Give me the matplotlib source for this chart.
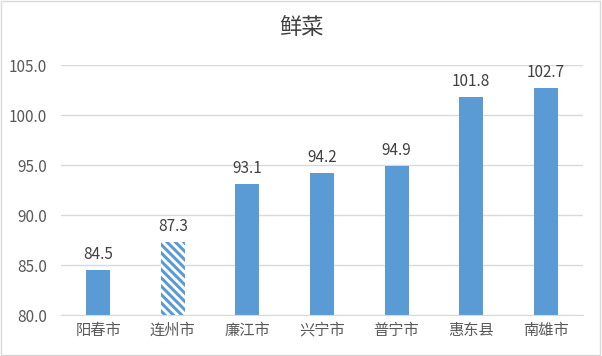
import matplotlib.pyplot as plt
import numpy as np

plt.rcParams['font.family'] = ['Noto Sans CJK SC', 'DejaVu Sans']
plt.rcParams['hatch.linewidth'] = 2.2

cities = ['阳春市', '连州市', '廉江市', '兴宁市', '普宁市', '惠东县', '南雄市']
values = [84.5, 87.3, 93.1, 94.2, 94.9, 101.8, 102.7]
hatched = [False, True, False, False, False, False, False]

bar_color = '#5B9BD5'
text_color = '#404040'

fig = plt.figure(figsize=(6.02, 3.56), dpi=100)
ax = fig.add_axes([61 / 602, 1 - 315 / 356, (583 - 61) / 602, (315 - 65) / 356])

x = np.arange(len(cities))
for i, (v, h) in enumerate(zip(values, hatched)):
    if h:
        ax.bar(x[i], v - 80, bottom=80, width=0.32, color='white',
               edgecolor=bar_color, hatch='\\\\\\\\', linewidth=0, zorder=2)
    else:
        ax.bar(x[i], v - 80, bottom=80, width=0.32, color=bar_color, zorder=2)
    ax.text(x[i], v + 0.7, f'{v:.1f}', ha='center', va='bottom',
            fontsize=11, color=text_color)

ax.set_ylim(80, 105)
ax.set_xlim(-0.5, len(cities) - 0.5)
ax.set_yticks(np.arange(80, 105.1, 5))
ax.set_yticklabels([f'{t:.1f}' for t in np.arange(80, 105.1, 5)])
ax.set_xticks(x)
ax.set_xticklabels(cities)
ax.tick_params(axis='both', length=0, labelsize=11, colors='#595959')
ax.tick_params(axis='y', pad=10)
ax.tick_params(axis='x', pad=5)
ax.grid(axis='y', color='#D9D9D9', linewidth=1, zorder=0)
for s in ['top', 'right', 'left']:
    ax.spines[s].set_visible(False)
ax.spines['bottom'].set_color('#D9D9D9')

fig.text(0.5, 1 - 27 / 356, '鲜菜', ha='center', va='center', fontsize=16, color=text_color)

fig.patches.append(plt.Rectangle((0.002, 0.003), 0.995, 0.993, transform=fig.transFigure,
                                 fill=False, edgecolor='#D9D9D9', linewidth=1))

fig.savefig('out.png', dpi=100)
